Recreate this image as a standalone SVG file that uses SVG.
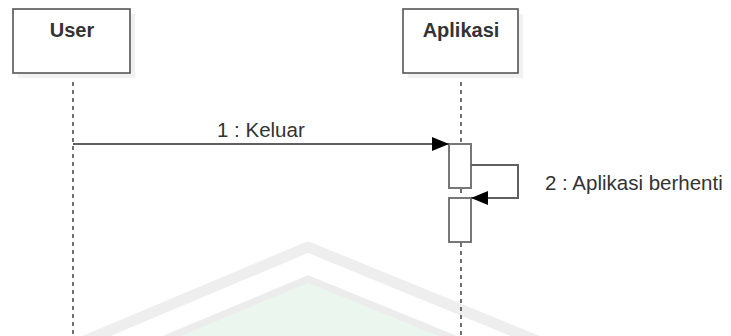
<svg xmlns="http://www.w3.org/2000/svg" width="731" height="336" viewBox="0 0 731 336">
  <style>
    .head { fill: #ffffff; stroke: #555555; stroke-width: 1.6; }
    .shadow { fill: #f1f1f1; }
    .title { font-family: "Liberation Sans", Arial, sans-serif; font-size: 20px; font-weight: bold; fill: #333333; text-anchor: middle; }
    .life { stroke: #111111; stroke-width: 1.2; stroke-dasharray: 4 4; fill: none; }
    .act { fill: #ffffff; stroke: #777777; stroke-width: 2; }
    .msg { stroke: #606060; stroke-width: 2; fill: none; }
    .label { font-family: "Liberation Sans", Arial, sans-serif; font-size: 20.5px; fill: #333333; }
    .wm-band { fill: none; stroke: #eeeeee; stroke-width: 11; stroke-linejoin: round; }
    .wm-inner { fill: #eaf6ee; stroke: #ececec; stroke-width: 7; stroke-linejoin: round; }
  </style>
  <defs>
    <marker id="arrow" markerWidth="18" markerHeight="14" refX="17" refY="7" orient="auto" markerUnits="userSpaceOnUse">
      <path d="M0,0 L17,7 L0,14 Z" fill="#000000"/>
    </marker>
  </defs>

  <rect width="731" height="336" fill="#ffffff"/>

  <!-- background emblem -->
  <g id="emblem">
    <path class="wm-band" d="M82,342 L308,247 L540,342"/>
    <path class="wm-inner" d="M150,345 L308,279 L470,345 Z"/>
  </g>

  <!-- lifelines -->
  <g id="lifelines">
    <line class="life" x1="73" y1="74" x2="73" y2="336"/>
    <line class="life" x1="461" y1="74" x2="461" y2="144"/>
    <line class="life" x1="461" y1="189" x2="461" y2="198"/>
    <line class="life" x1="461" y1="243" x2="461" y2="336"/>
  </g>

  <g id="user">
    <rect class="shadow" x="18" y="14" width="117" height="64"/>
    <rect class="head" x="13" y="9" width="117" height="64"/>
    <text class="title" x="72" y="37">User</text>
  </g>

  <g id="aplikasi">
    <rect class="shadow" x="408" y="14" width="115" height="64"/>
    <rect class="head" x="403" y="9" width="115" height="64"/>
    <text class="title" x="461" y="37">Aplikasi</text>
  </g>

  <g id="activation-1">
    <rect class="act" x="449" y="144" width="22" height="44"/>
  </g>
  <g id="activation-2">
    <rect class="act" x="449" y="198" width="22" height="44"/>
  </g>

  <!-- messages -->
  <g id="connectors">
    <line class="msg" x1="73" y1="144" x2="449" y2="144" marker-end="url(#arrow)"/>
    <polyline class="msg" points="471,165 518,165 518,198 471,198" marker-end="url(#arrow)"/>
  </g>

  <g id="labels">
    <text class="label" x="217" y="137">1 : Keluar</text>
    <text class="label" x="545" y="190">2 : Aplikasi berhenti</text>
  </g>
</svg>
